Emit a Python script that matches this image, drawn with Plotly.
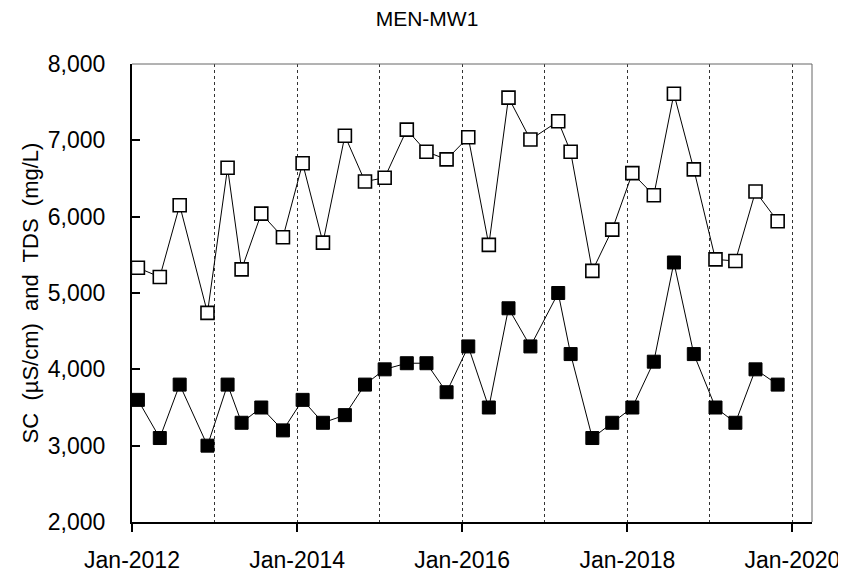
import plotly.graph_objects as go

# Sampling dates (approx. quarterly) and readings for MEN-MW1
dates = [
    "2012-01-27", "2012-05-03", "2012-07-30", "2012-11-30",
    "2013-02-27", "2013-04-30", "2013-07-26", "2013-10-30",
    "2014-01-25", "2014-04-25", "2014-07-31", "2014-10-28",
    "2015-01-23", "2015-05-01", "2015-07-27", "2015-10-24",
    "2016-01-28", "2016-04-28", "2016-07-24", "2016-10-29",
    "2017-03-01", "2017-04-25", "2017-07-30", "2017-10-26",
    "2018-01-23", "2018-04-28", "2018-07-26", "2018-10-22",
    "2019-01-26", "2019-04-24", "2019-07-22", "2019-10-28",
]
sc = [
    5330, 5210, 6150, 4740, 6640, 5310, 6040, 5730,
    6700, 5660, 7060, 6460, 6510, 7140, 6850, 6750,
    7040, 5630, 7560, 7010, 7250, 6850, 5290, 5830,
    6570, 6280, 7610, 6620, 5440, 5420, 6330, 5940,
]
tds = [
    3600, 3100, 3800, 3000, 3800, 3300, 3500, 3200,
    3600, 3300, 3400, 3800, 4000, 4080, 4080, 3700,
    4300, 3500, 4800, 4300, 5000, 4200, 3100, 3300,
    3500, 4100, 5400, 4200, 3500, 3300, 4000, 3800,
]

fig = go.Figure()

# SC - open squares
fig.add_trace(go.Scatter(
    x=dates, y=sc, mode="lines+markers", name="SC",
    line=dict(color="black", width=1),
    marker=dict(symbol="square", size=13, color="white",
                line=dict(color="black", width=1.6)),
))

# TDS - filled squares
fig.add_trace(go.Scatter(
    x=dates, y=tds, mode="lines+markers", name="TDS",
    line=dict(color="black", width=1),
    marker=dict(symbol="square", size=13, color="black",
                line=dict(color="black", width=1)),
))

fig.update_xaxes(
    range=["2012-01-01", "2020-03-28"],
    tick0="2012-01-01", dtick="M24", tickformat="%b-%Y",
    ticks="outside", ticklen=8, tickwidth=1.5, tickcolor="black",
    showline=True, linecolor="black", linewidth=2,
    showgrid=True, gridcolor="#333", gridwidth=1, griddash="dot",
    minor=dict(dtick="M12", tick0="2012-01-01", showgrid=True,
               gridcolor="#333", gridwidth=1, griddash="dot", ticks=""),
    tickfont=dict(size=23, color="black"),
    ticklabelstandoff=8,
    zeroline=False, automargin=False,
)

fig.update_yaxes(
    range=[2000, 8000], dtick=1000, tickformat=",",
    ticks="inside", ticklen=8, tickwidth=1.5, tickcolor="black",
    showline=True, linecolor="black", linewidth=2,
    showgrid=False, zeroline=False, automargin=False,
    tickfont=dict(size=23, color="black"),
    ticklabelstandoff=20,
    title=dict(text="SC\u00a0 (µS/cm)\u00a0 and\u00a0 TDS\u00a0 (mg/L)", standoff=3,
               font=dict(size=22, color="black")),
)

# thin grey frame on top and right
fig.add_shape(type="line", xref="paper", yref="paper", x0=0, x1=1, y0=1, y1=1,
              line=dict(color="#666", width=1))
fig.add_shape(type="line", xref="paper", yref="paper", x0=1, x1=1, y0=0, y1=1,
              line=dict(color="#666", width=1))

fig.update_layout(
    title=dict(text="MEN-MW1", x=0.5, xanchor="center", y=0.995, yanchor="top",
               font=dict(size=21, color="black")),
    font=dict(family="Liberation Sans, Arial, sans-serif", color="black"),
    width=838, height=568,
    margin=dict(l=124, r=34, t=56, b=54),
    plot_bgcolor="white", paper_bgcolor="white",
    showlegend=False,
)

fig.write_html("out.html")
